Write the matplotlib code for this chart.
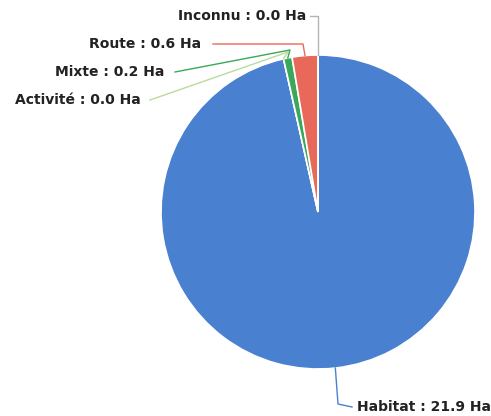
import numpy as np
import matplotlib
matplotlib.use('Agg')
import matplotlib.pyplot as plt

# surfaces par type (Ha), dans l'ordre horaire depuis le haut
categories = ['Habitat', 'Activité', 'Mixte', 'Route', 'Inconnu']
values = [21.9, 0.0, 0.2, 0.6, 0.0]
colors = ['#4a80d0', '#b8dc9c', '#3aa85a', '#e8695a', '#b4b4b4']

# px -> data (centre du camembert a 318,212, rayon 157 px)
cx, cy, R = 318, 212, 157


def px(x, y):
    return (x - cx) / R, (cy - y) / R


fig = plt.figure(figsize=(4.91, 4.16), dpi=100)
ax = fig.add_axes([0, 0, 1, 1])
wedges, _ = ax.pie(values, colors=colors, startangle=90, counterclock=False,
                   radius=1, center=(0, 0),
                   wedgeprops=dict(edgecolor='white', linewidth=1.2))
ax.set_xlim(px(0, 0)[0], px(491, 0)[0])
ax.set_ylim(px(0, 416)[1], px(0, 0)[1])
ax.set_aspect('equal')
ax.axis('off')

# position des etiquettes (px) : point de coude, fin de ligne, texte
layout = {
    'Habitat': [(338, 404), (352, 407), (357, 407), 'left'],
    'Activité': [(288, 52), (150, 100), (141, 100), 'right'],
    'Mixte': [(290, 50), (175, 72), (164, 72), 'right'],
    'Route': [(303, 44), (213, 44), (201, 44), 'right'],
    'Inconnu': [(318, 16), (310, 16), (306, 16), 'right'],
}

for w, cat, val, col in zip(wedges, categories, values, colors):
    mid = np.deg2rad((w.theta1 + w.theta2) / 2)
    ax0, ay0 = np.cos(mid), np.sin(mid)
    elbow, end, tpos, ha = layout[cat]
    ex, ey = px(*elbow)
    lx, ly = px(*end)
    ax.plot([ax0, ex, lx], [ay0, ey, ly], color=col, lw=1)
    tx, ty = px(*tpos)
    ax.text(tx, ty, f'{cat} : {val:.1f} Ha', ha=ha, va='center',
            fontsize=10, fontweight='bold', color='#222222')

fig.savefig('out.png', dpi=100)
